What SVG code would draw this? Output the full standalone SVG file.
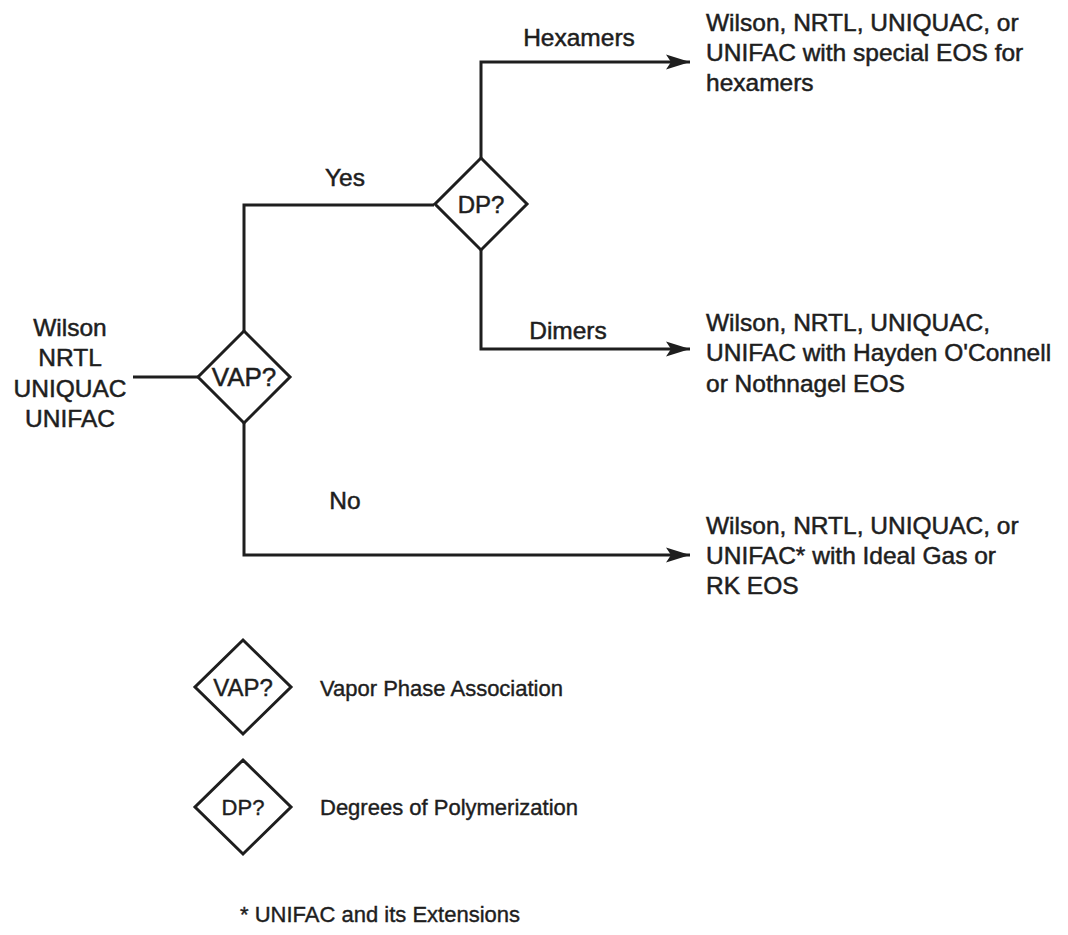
<svg xmlns="http://www.w3.org/2000/svg" width="1068" height="935" viewBox="0 0 1068 935">
  <defs>
    <marker id="arrow" markerUnits="userSpaceOnUse" markerWidth="26" markerHeight="18" refX="24" refY="9" orient="auto">
      <path d="M0,1.5 L24,9 L0,16.5 L5,9 Z" fill="#1e1e1e"/>
    </marker>
    <style>
      .ln { fill: none; stroke: #1e1e1e; stroke-width: 3; }
      .dm { fill: #fff; stroke: #1e1e1e; stroke-width: 3; stroke-linejoin: miter; }
      .t { font-family: "Liberation Sans", Arial, sans-serif; font-size: 24.5px; fill: #1e1e1e; stroke: #1e1e1e; stroke-width: 0.5; }
      .lg { font-family: "Liberation Sans", Arial, sans-serif; font-size: 22px; fill: #1e1e1e; stroke: #1e1e1e; stroke-width: 0.4; }
      .mid { text-anchor: middle; }
    </style>
  </defs>
  <rect width="1068" height="935" fill="#fff"/>

  <g id="connectors">
    <line class="ln" x1="133" y1="377" x2="198" y2="377"/>
    <polyline class="ln" points="244,331 244,205 434,205"/>
    <polyline class="ln" points="244,423 244,555 690,555" marker-end="url(#arrow)"/>
    <polyline class="ln" points="481,158 481,62 690,62" marker-end="url(#arrow)"/>
    <polyline class="ln" points="481,250 481,349 690,349" marker-end="url(#arrow)"/>
  </g>

  <g id="edge-labels">
    <text class="t mid" x="579" y="46">Hexamers</text>
    <text class="t mid" x="345" y="186">Yes</text>
    <text class="t mid" x="568" y="339">Dimers</text>
    <text class="t mid" x="345" y="509">No</text>
  </g>

  <g id="input">
    <text class="t mid" x="70" y="336">Wilson</text>
    <text class="t mid" x="70" y="366">NRTL</text>
    <text class="t mid" x="70" y="397">UNIQUAC</text>
    <text class="t mid" x="70" y="427">UNIFAC</text>
  </g>

  <g id="vap">
    <polygon class="dm" points="244,331 290,377 244,423 198,377"/>
    <text class="t mid" x="244" y="386" style="font-size:26px">VAP?</text>
  </g>

  <g id="dp">
    <polygon class="dm" points="481,158 527,204 481,250 435,204"/>
    <text class="t mid" x="481" y="213" style="font-size:24px">DP?</text>
  </g>

  <g id="hexamers-result">
    <text class="t" x="706" y="31">Wilson, NRTL, UNIQUAC, or</text>
    <text class="t" x="706" y="61">UNIFAC with special EOS for</text>
    <text class="t" x="706" y="91">hexamers</text>
  </g>

  <g id="dimers-result">
    <text class="t" x="706" y="331">Wilson, NRTL, UNIQUAC,</text>
    <text class="t" x="706" y="361">UNIFAC with Hayden O'Connell</text>
    <text class="t" x="706" y="392">or Nothnagel EOS</text>
  </g>

  <g id="no-result">
    <text class="t" x="706" y="534">Wilson, NRTL, UNIQUAC, or</text>
    <text class="t" x="706" y="564">UNIFAC* with Ideal Gas or</text>
    <text class="t" x="706" y="594">RK EOS</text>
  </g>

  <g id="legend-vap">
    <polygon class="dm" points="243,640 291,687 243,734 195,687"/>
    <text class="lg mid" x="243" y="696" style="font-size:24px">VAP?</text>
    <text class="lg" x="320" y="696">Vapor Phase Association</text>
  </g>

  <g id="legend-dp">
    <polygon class="dm" points="243,760 291,807 243,854 195,807"/>
    <text class="lg mid" x="243" y="815">DP?</text>
    <text class="lg" x="320" y="815">Degrees of Polymerization</text>
  </g>

  <g id="footnote">
    <text class="lg" x="240" y="922">* UNIFAC and its Extensions</text>
  </g>
</svg>
